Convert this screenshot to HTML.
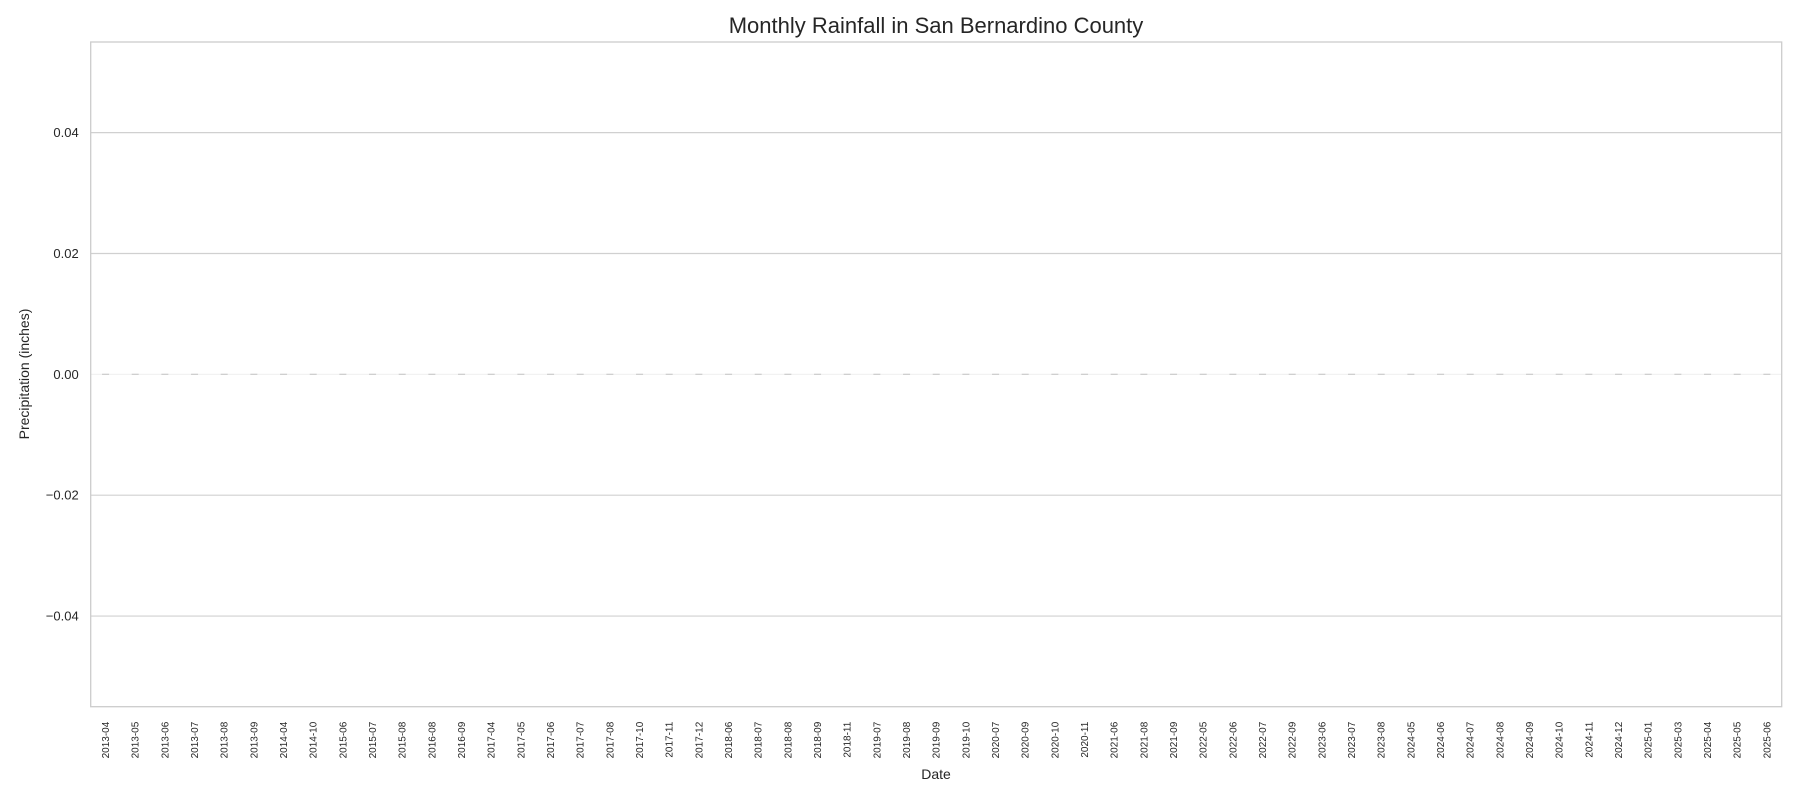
<!DOCTYPE html>
<html><head><meta charset="utf-8"><style>
body{margin:0;background:#fff;}
svg text{font-family:"Liberation Sans",Arial,sans-serif;fill:#262626;}
</style></head><body>
<svg id="chart" width="1800" height="800" xmlns="http://www.w3.org/2000/svg">
<text x="936" y="33" font-size="22" text-anchor="middle">Monthly Rainfall in San Bernardino County</text>
<g id="grid"></g>
<g id="bars"></g>
<rect x="90.7" y="42" width="1691" height="664.7" fill="none" stroke="#cccccc" stroke-width="1.3"/>
<g id="yticks"></g>
<g id="xticks"></g>
<text x="0" y="0" font-size="14" text-anchor="middle" transform="translate(29,374) rotate(-90)">Precipitation (inches)</text>
<text x="936" y="779" font-size="14" text-anchor="middle">Date</text>
</svg>
<script>
const categories = ["2013-04","2013-05","2013-06","2013-07","2013-08","2013-09","2014-04","2014-10","2015-06","2015-07","2015-08","2016-08","2016-09","2017-04","2017-05","2017-06","2017-07","2017-08","2017-10","2017-11","2017-12","2018-06","2018-07","2018-08","2018-09","2018-11","2019-07","2019-08","2019-09","2019-10","2020-07","2020-09","2020-10","2020-11","2021-06","2021-08","2021-09","2022-05","2022-06","2022-07","2022-09","2023-06","2023-07","2023-08","2024-05","2024-06","2024-07","2024-08","2024-09","2024-10","2024-11","2024-12","2025-01","2025-03","2025-04","2025-05","2025-06"];
const rainfall = categories.map(() => 0);
const yTicks = [-0.04, -0.02, 0.00, 0.02, 0.04];
const yTickLabels = ["\u22120.04", "\u22120.02", "0.00", "0.02", "0.04"];

const NS = "http://www.w3.org/2000/svg";
const L = 90.7, R = 1781.7, T = 42, B = 706.7;
const yMin = -0.055, yMax = 0.055;
function yScale(v){ return B - (v - yMin) / (yMax - yMin) * (B - T); }
const step = (R - L) / categories.length;
function xScale(i){ return L + step * (i + 0.5); }
function mk(tag, attrs){ const e = document.createElementNS(NS, tag); for (const k in attrs) e.setAttribute(k, attrs[k]); return e; }

const grid = document.getElementById('grid');
const yt = document.getElementById('yticks');
yTicks.forEach((v, i) => {
  const y = yScale(v);
  const ln = mk('line', {x1: L, x2: R, y1: y, y2: y, stroke: v === 0 ? '#f2f2f2' : '#d0d0d0', 'stroke-width': 1.2});
  
  
  grid.appendChild(ln);
  const t = mk('text', {x: L - 12, y: y + 4.5, 'font-size': 13, 'text-anchor': 'end'});
  t.textContent = yTickLabels[i];
  
  
  yt.appendChild(t);
});

const bars = document.getElementById('bars');
const xt = document.getElementById('xticks');
categories.forEach((c, i) => {
  const cx = xScale(i);
  const y0 = yScale(0), y1 = yScale(rainfall[i]);
  const bw = step * 0.8;
  const r = mk('rect', {x: cx - bw / 2, y: Math.min(y0, y1), width: bw, height: Math.max(Math.abs(y1 - y0), 0), fill: '#4c72b0'});
  
  
  bars.appendChild(r);
  const d = mk('line', {x1: cx - 3.5, x2: cx + 3.5, y1: y1, y2: y1, stroke: '#cfcfcf', 'stroke-width': 1.3});
  
  
  bars.appendChild(d);
  const t = mk('text', {x: 0, y: 0, 'font-size': 10, 'text-anchor': 'end', transform: 'translate(' + (cx + 3.5) + ',' + (B + 15) + ') rotate(-90)'});
  t.textContent = c;
  
  
  xt.appendChild(t);
});
</script>
</body></html>
